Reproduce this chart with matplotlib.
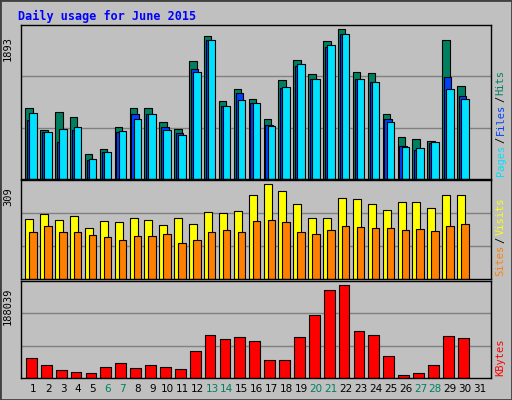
import matplotlib
matplotlib.use("Agg")
import matplotlib.pyplot as plt
import numpy as np

days = list(range(1, 31))
hits = [891,621,839,775,313,377,660,891,891,724,634,1482,1807,981,1135,1006,762,1251,1495,1328,1739,1893,1353,1341,814,531,505,480,1752,1174]
files = [741,587,471,612,236,338,595,814,814,660,582,1392,1752,917,1084,955,685,1144,1422,1264,1666,1829,1264,1225,750,415,368,450,1289,1045]
pages = [827,595,634,660,248,338,608,762,814,621,557,1353,1752,917,994,955,672,1161,1443,1264,1688,1829,1264,1225,724,403,390,467,1135,1006]
visits = [195,212,192,205,165,189,185,199,192,175,199,178,219,215,222,272,309,286,245,199,199,262,259,242,225,249,249,229,272,272]
sites = [152,172,152,152,142,135,125,138,138,145,118,125,152,158,152,189,190,185,152,145,158,172,168,165,165,158,162,155,172,178]
kbytes = [39800,25400,17150,13000,11000,23300,29500,21300,25400,23300,19200,54200,87100,78900,83000,74800,35700,35700,83000,128300,179700,188039,95400,87100,43900,6900,11000,27400,85100,81000]
xlabels = [str(d) for d in range(1, 32)]
weekend = {6, 7, 13, 14, 20, 21, 27, 28}

bg = "#c0c0c0"
fig = plt.figure(figsize=(5.12, 4.0), dpi=100, facecolor=bg)
fig.patches.append(plt.Rectangle((0, 0), 1, 1, transform=fig.transFigure, fill=False,
                                 edgecolor="#404040", linewidth=2))
fig.text(18/512, 1-16/400, "Daily usage for June 2015", color="#0000ff", fontsize=8.5,
         fontweight="bold", family="DejaVu Sans Mono", va="center")

L, W = 21/512, 470/512
ax1 = fig.add_axes([L, 1-179/400, W, 154/400])
ax2 = fig.add_axes([L, 1-279/400, W, 99/400])
ax3 = fig.add_axes([L, 1-378/400, W, 97/400])

x = np.array(days)
w = 0.5
ec = dict(edgecolor="black", linewidth=0.8, align="edge")
ax1.bar(x-0.54, hits, w, color="#008060", **ec)
ax1.bar(x-0.42, files, w, color="#0040ff", **ec)
ax1.bar(x-0.27, pages, w, color="#00e0ff", **ec)
ax2.bar(x-0.54, visits, 0.54, color="#ffff00", **ec)
ax2.bar(x-0.27, sites, 0.5, color="#ff8000", **ec)
ax3.bar(x-0.49, kbytes, 0.72, color="#ff0000", **ec)

for ax, mx, top, lab in [(ax1, 1893, 1893*453/442, "1893"),
                         (ax2, 309, 309*288/277, "309"),
                         (ax3, 188039, 188039*287/274, "188039")]:
    ax.set_facecolor(bg)
    ax.set_xlim(0.17, 31.74)
    ax.set_ylim(0, top)
    for f in (1/3, 2/3):
        ax.axhline(top*f, color="#808080", linewidth=1, zorder=0)
    ax.set_xticks([]); ax.set_yticks([])
    for s in ax.spines.values():
        s.set_color("black"); s.set_linewidth(1)
    ax.text(-0.028, 0.93, lab, transform=ax.transAxes, rotation=90, ha="center", va="top",
            fontsize=7.5, family="DejaVu Sans Mono")

def rlabel(ax, parts, y0):
    fig.canvas.draw()
    ax.annotate("", (0, 0))
rx = 0.978
# right-side labels
def vert(parts, ystart):
    t = None
    y = ystart
    r = fig.canvas.get_renderer()
    for s, c in parts:
        t = fig.text(rx, y, s, color=c, rotation=90, ha="center", va="bottom",
                     fontsize=7.5, family="DejaVu Sans Mono")
        bb = t.get_window_extent(renderer=r)
        y += bb.height/400 + 0.004
vert([("Pages", "#00e0ff"), ("/", "#000000"), ("Files", "#0040ff"), ("/", "#000000"), ("Hits", "#008060")], 1-176/400)
vert([("Sites", "#ff8000"), ("/", "#000000"), ("Visits", "#ffff00")], 1-276/400)
vert([("KBytes", "#ff0000")], 1-376/400)

for d, s in zip(range(1, 32), xlabels):
    xf = L + W*(d-0.17)/(31.74-0.17)
    fig.text(xf, 1-389/400, s, ha="center", va="center", fontsize=7.5,
             color="#008060" if d in weekend else "black", family="DejaVu Sans")

fig.savefig("out.png", dpi=100, facecolor=bg)
